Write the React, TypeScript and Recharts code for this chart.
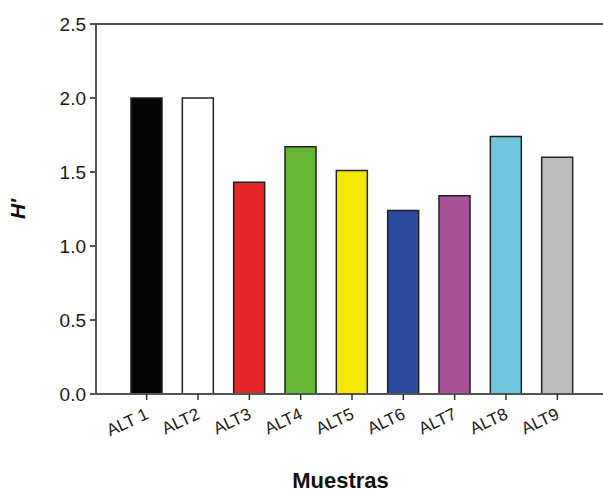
import { BarChart, Bar, XAxis, YAxis, Cell, ReferenceLine } from "recharts";

const samples = ["ALT 1", "ALT2", "ALT3", "ALT4", "ALT5", "ALT6", "ALT7", "ALT8", "ALT9"];
const diversity = [2.0, 2.0, 1.43, 1.67, 1.51, 1.24, 1.34, 1.74, 1.6];
const barColors = [
  "#050505",
  "#ffffff",
  "#e2262a",
  "#67b534",
  "#f6e700",
  "#2b4c9c",
  "#aa539c",
  "#6fc5d9",
  "#bdbdbd",
];
const yTicks = [0, 0.5, 1.0, 1.5, 2.0, 2.5];

const data = samples.map((name, i) => ({ name, value: diversity[i] }));

const font = "'Liberation Sans', Arial, sans-serif";

function XTick({ x, y, payload }: any) {
  return (
    <g transform={`translate(${x + 3},${y + 16}) rotate(-25)`}>
      <text x={0} y={0} textAnchor="end" fontFamily={font} fontSize={17} fill="#1a1a1a">
        {payload.value}
      </text>
    </g>
  );
}

export default function App() {
  return (
    <div style={{ position: "absolute", left: 0, top: 0, width: 603, height: 492, background: "#fff" }}>
      <BarChart
        width={603}
        height={492}
        data={data}
        margin={{ top: 24, right: 0, bottom: 0, left: 0 }}
        barSize={31}
      >
        <XAxis
          dataKey="name"
          height={98}
          padding={{ left: 25, right: 20 }}
          tick={<XTick />}
          tickSize={6}
          interval={0}
          stroke="#555"
          strokeWidth={2}
          tickLine={{ stroke: "#333", strokeWidth: 1.5 }}
          label={{
            value: "Muestras",
            position: "insideBottom",
            offset: 4,
            dx: -9,
            style: { fontFamily: font, fontSize: 22, fontWeight: "bold", fill: "#111" },
          }}
        />
        <YAxis
          width={96}
          domain={[0, 2.5]}
          ticks={yTicks}
          tickFormatter={(v: number) => v.toFixed(1)}
          tickSize={6}
          tickMargin={4}
          stroke="#555"
          strokeWidth={2}
          tick={{ fontFamily: font, fontSize: 19, fill: "#1a1a1a" }}
          label={{
            value: "H\u2032",
            angle: -90,
            position: "insideLeft",
            offset: 18,
            style: {
              fontFamily: font,
              fontSize: 21,
              fontWeight: "bold",
              fontStyle: "italic",
              fill: "#111",
              textAnchor: "middle",
            },
          }}
        />
        <ReferenceLine y={2.5} stroke="#555" strokeWidth={2} />
        <Bar dataKey="value" stroke="#222" strokeWidth={1.5} isAnimationActive={false}>
          {data.map((d, i) => (
            <Cell key={d.name} fill={barColors[i]} />
          ))}
        </Bar>
      </BarChart>
    </div>
  );
}
